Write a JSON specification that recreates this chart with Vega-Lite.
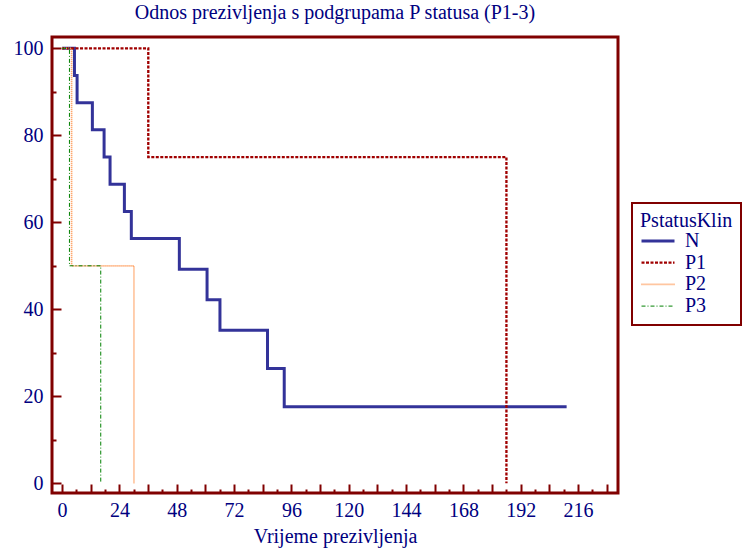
{
  "$schema": "https://vega.github.io/schema/vega-lite/v6.json",
  "width": 566,
  "height": 456,
  "autosize": {"type": "none"},
  "padding": {"left": 52, "top": 37, "right": 132, "bottom": 55},
  "background": "white",
  "title": {
    "text": "Odnos prezivljenja s podgrupama P statusa (P1-3)",
    "font": "Liberation Serif",
    "fontSize": 20,
    "fontWeight": "normal",
    "color": "#000080",
    "anchor": "middle",
    "baseline": "alphabetic",
    "offset": -2
  },
  "data": {
    "values": [
      {"t": 0, "s": 100, "g": "N"},
      {"t": 5.2, "s": 93.75, "g": "N"},
      {"t": 6.3, "s": 87.5, "g": "N"},
      {"t": 12.7, "s": 81.25, "g": "N"},
      {"t": 17.6, "s": 75, "g": "N"},
      {"t": 20.1, "s": 68.75, "g": "N"},
      {"t": 26.1, "s": 62.5, "g": "N"},
      {"t": 29.0, "s": 56.25, "g": "N"},
      {"t": 49.1, "s": 49.22, "g": "N"},
      {"t": 60.7, "s": 42.19, "g": "N"},
      {"t": 66.1, "s": 35.16, "g": "N"},
      {"t": 86.0, "s": 26.37, "g": "N"},
      {"t": 93.0, "s": 17.58, "g": "N"},
      {"t": 211.2, "s": 17.58, "g": "N"},
      {"t": 0, "s": 100, "g": "P1"},
      {"t": 36.1, "s": 75, "g": "P1"},
      {"t": 186.0, "s": 0, "g": "P1"},
      {"t": 0, "s": 100, "g": "P2"},
      {"t": 4.0, "s": 50, "g": "P2"},
      {"t": 30.1, "s": 0, "g": "P2"},
      {"t": 0, "s": 100, "g": "P3"},
      {"t": 3.1, "s": 50, "g": "P3"},
      {"t": 16.2, "s": 0, "g": "P3"}
    ]
  },
  "layer": [
    {
      "mark": {"type": "line", "interpolate": "step-after"},
      "encoding": {
        "x": {
          "field": "t", "type": "quantitative",
          "scale": {"domain": [-4.2, 232.7], "nice": false, "zero": false},
          "axis": {
            "orient": "bottom",
            "values": [0, 12, 24, 36, 48, 60, 72, 84, 96, 108, 120, 132, 144, 156, 168, 180, 192, 204, 216, 228],
            "labelExpr": "datum.value % 24 === 0 ? datum.label : ''",
            "tickSize": -9,
            "labelPadding": 16,
            "title": "Vrijeme prezivljenja",
            "titlePadding": 6
          }
        },
        "y": {
          "field": "s", "type": "quantitative",
          "scale": {"domain": [-2.23, 102.6], "nice": false, "zero": false},
          "axis": {
            "orient": "left",
            "values": [0, 20, 40, 60, 80, 100],
            "tickSize": -9,
            "labelPadding": 18,
            "title": null
          }
        },
        "color": {
          "field": "g", "type": "nominal", "title": "PstatusKlin\u00a0\u00a0\u00a0\u00a0\u00a0\u00a0",
          "scale": {"domain": ["N", "P1", "P2", "P3"], "range": ["#333399", "#a00000", "#ff8c40", "#008000"]}
        },
        "strokeDash": {
          "field": "g", "type": "nominal", "title": "PstatusKlin\u00a0\u00a0\u00a0\u00a0\u00a0\u00a0",
          "scale": {"domain": ["N", "P1", "P2", "P3"], "range": [[1, 0], [3, 1.5], [1, 1], [4, 2, 1, 2]]}
        },
        "strokeWidth": {
          "field": "g", "type": "nominal", "title": "PstatusKlin\u00a0\u00a0\u00a0\u00a0\u00a0\u00a0",
          "scale": {"domain": ["N", "P1", "P2", "P3"], "range": [3, 1, 1, 1]}
        }
      }
    },
    {
      "mark": {"type": "point", "opacity": 0},
      "encoding": {
        "x": {
          "field": "t", "type": "quantitative",
          "axis": {
            "orient": "bottom",
            "values": [6, 18, 30, 42, 54, 66, 78, 90, 102, 114, 126, 138, 150, 162, 174, 186, 198, 210, 222],
            "labels": false,
            "tickSize": -4,
            "title": null
          }
        },
        "y": {
          "field": "s", "type": "quantitative",
          "axis": {
            "orient": "left",
            "values": [10, 30, 50, 70, 90],
            "labels": false,
            "tickSize": -4,
            "title": null
          }
        }
      }
    }
  ],
  "resolve": {"axis": {"x": "independent", "y": "independent"}},
  "config": {
    "view": {"stroke": "#800000", "strokeWidth": 3},
    "axis": {
      "domain": false,
      "grid": false,
      "ticks": true,
      "tickColor": "#800000",
      "tickWidth": 2,
      "labelFont": "Liberation Serif",
      "labelFontSize": 20,
      "labelColor": "#000080",
      "titleFont": "Liberation Serif",
      "titleFontSize": 20,
      "titleFontWeight": "normal",
      "titleColor": "#000080"
    },
    "legend": {
      "orient": "none",
      "legendX": 580,
      "legendY": 166,
      "padding": 8,
      "strokeColor": "#800000",
      "strokeWidth": 2,
      "fillColor": "white",
      "titleFont": "Liberation Serif",
      "titleFontSize": 20,
      "titleFontWeight": "normal",
      "titleColor": "#000080",
      "titlePadding": 0,
      "titleLimit": 300,
      "labelFont": "Liberation Serif",
      "labelFontSize": 20,
      "labelColor": "#000080",
      "labelOffset": 9,
      "symbolType": "stroke",
      "symbolSize": 1089,
      "clipHeight": 20,
      "rowPadding": 1.7
    }
  }
}
